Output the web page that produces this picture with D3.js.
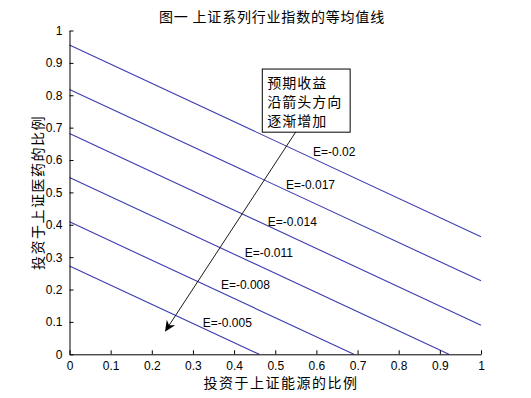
<!DOCTYPE html>
<html><head><meta charset="utf-8">
<script src="https://cdn.jsdelivr.net/npm/d3@7"></script>
<style>body{margin:0;background:#fff}svg{display:block}</style>
</head><body><svg id="c" width="531" height="398"></svg>
<script>
const titleText = "图一 上证系列行业指数的等均值线";
const xLabelText = "投资于上证能源的比例";
const yLabelText = "投资于上证医药的比例";
const levels = ["E=-0.02", "E=-0.017", "E=-0.014", "E=-0.011", "E=-0.008", "E=-0.005"];
const lineStart = [[0, 0.955], [0, 0.818], [0, 0.682], [0, 0.546], [0, 0.409], [0, 0.273]];
const lineEnd = [[1, 0.363], [1, 0.227], [1, 0.090], [0.922, 0], [0.691, 0], [0.461, 0]];
const labelPos = [[0.592, 0.625], [0.526, 0.523], [0.482, 0.409], [0.426, 0.313], [0.368, 0.214], [0.324, 0.097]];
const tickValues = [0, 0.1, 0.2, 0.3, 0.4, 0.5, 0.6, 0.7, 0.8, 0.9, 1];
const noteLines = ["预期收益", "沿箭头方向", "逐渐增加"];
const noteBox = [[0.4685, 0.881], [0.682, 0.686]];
const arrowFrom = [0.550, 0.687];
const arrowTo = [0.232, 0.070];

const svg = d3.select("#c");
svg.append("rect").attr("width", 531).attr("height", 398).attr("fill", "#fff");
const x = d3.scaleLinear().domain([0, 1]).range([69.5, 481]);
const y = d3.scaleLinear().domain([0, 1]).range([354.3, 30.5]);
const numFont = "'Liberation Sans', Arial, sans-serif";
const cjkFont = "'Noto Sans CJK SC', sans-serif";

// contour lines
const lineGen = d3.line().x(d => x(d[0])).y(d => y(d[1]));
svg.append("g").selectAll("path").data(levels.map((l, i) => [lineStart[i], lineEnd[i]]))
  .join("path").attr("d", lineGen).attr("fill", "none")
  .attr("stroke", "#3c3cb0").attr("stroke-width", 1.1);

// axes
const xAxis = d3.axisBottom(x).tickValues(tickValues).tickFormat(d3.format("~g")).tickSizeInner(-4).tickSizeOuter(0).tickPadding(7);
const yAxis = d3.axisLeft(y).tickValues(tickValues).tickFormat(d3.format("~g")).tickSizeInner(-4).tickSizeOuter(0).tickPadding(7);
const gx = svg.append("g").attr("transform", `translate(0,${y(0)})`).call(xAxis);
const gy = svg.append("g").attr("transform", `translate(${x(0)},0)`).call(yAxis);
[gx, gy].forEach(g => {
  g.selectAll("path.domain").attr("stroke", "#000").attr("stroke-width", 1);
  g.selectAll(".tick line").attr("stroke", "#000");
  g.selectAll(".tick text").attr("fill", "#000").attr("font-family", numFont).attr("font-size", 12);
});

// level labels
svg.append("g").selectAll("text").data(levels).join("text")
  .attr("x", (d, i) => x(labelPos[i][0])).attr("y", (d, i) => y(labelPos[i][1]))
  .attr("dominant-baseline", "central").attr("font-family", numFont).attr("font-size", 12)
  .attr("fill", "#000").text(d => d);

// annotation box
const bx0 = x(noteBox[0][0]), by0 = y(noteBox[0][1]), bx1 = x(noteBox[1][0]), by1 = y(noteBox[1][1]);
svg.append("rect").attr("x", bx0).attr("y", by0).attr("width", bx1 - bx0).attr("height", by1 - by0)
  .attr("fill", "#fff").attr("stroke", "#000").attr("stroke-width", 1);
svg.append("g").selectAll("text").data(noteLines).join("text")
  .attr("x", bx0 + 5).attr("y", (d, i) => by0 + 12.5 + i * 19.2)
  .attr("dominant-baseline", "central").attr("font-family", cjkFont).attr("font-size", 14)
  .attr("letter-spacing", 1).attr("fill", "#000").text(d => d);

// arrow
const ax0 = x(arrowFrom[0]), ay0 = y(arrowFrom[1]), ax1 = x(arrowTo[0]), ay1 = y(arrowTo[1]);
const ang = Math.atan2(ay1 - ay0, ax1 - ax0);
svg.append("line").attr("x1", ax0).attr("y1", ay0)
  .attr("x2", ax1 - Math.cos(ang) * 6).attr("y2", ay1 - Math.sin(ang) * 6)
  .attr("stroke", "#000").attr("stroke-width", 0.9);
svg.append("path").attr("d", "M0,0 L-11,-5 L-7.5,0 L-11,5 Z")
  .attr("transform", `translate(${ax1},${ay1}) rotate(${ang * 180 / Math.PI})`)
  .attr("fill", "#000");

// titles
svg.append("text").attr("x", 272).attr("y", 16).attr("text-anchor", "middle")
  .attr("dominant-baseline", "central").attr("font-family", cjkFont).attr("font-size", 14)
  .attr("letter-spacing", 0.8).attr("fill", "#000").text(titleText);
svg.append("text").attr("x", 281).attr("y", 381.5).attr("text-anchor", "middle")
  .attr("dominant-baseline", "central").attr("font-family", cjkFont).attr("font-size", 14)
  .attr("letter-spacing", 1.5).attr("fill", "#000").text(xLabelText);
svg.append("text").attr("transform", `translate(37,${(y(0) + y(1)) / 2}) rotate(-90)`)
  .attr("text-anchor", "middle").attr("dominant-baseline", "central")
  .attr("font-family", cjkFont).attr("font-size", 14).attr("letter-spacing", 1.5)
  .attr("fill", "#000").text(yLabelText);
</script></body></html>
